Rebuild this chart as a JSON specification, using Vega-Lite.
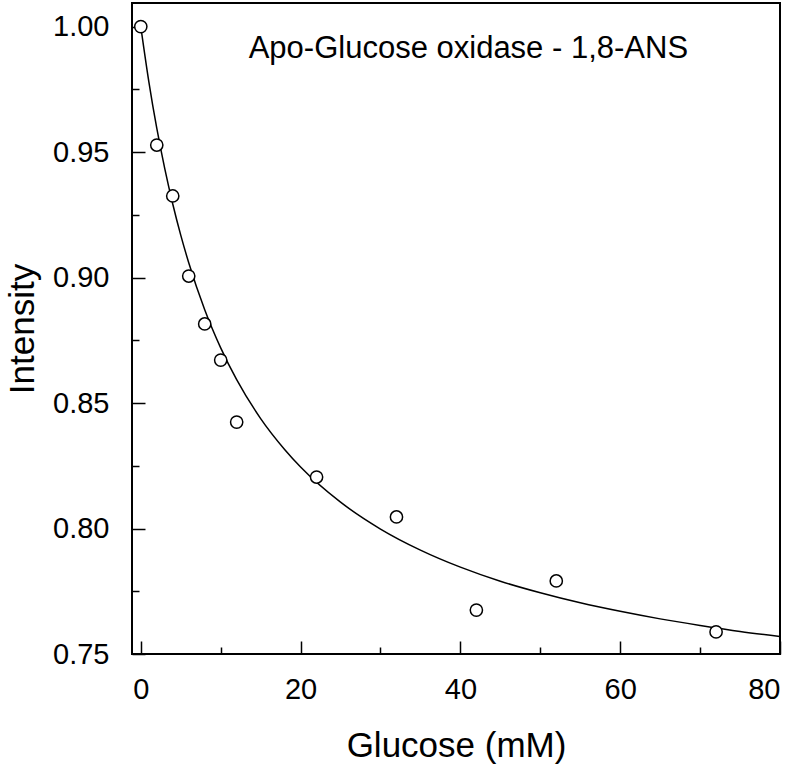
{
  "$schema": "https://vega.github.io/schema/vega-lite/v6.json",
  "width": 648,
  "height": 651,
  "autosize": {"type": "none"},
  "padding": {"left": 132, "top": 3, "right": 20, "bottom": 112},
  "background": "white",
  "config": {
    "font": "Liberation Sans",
    "view": {"stroke": "black", "strokeWidth": 2},
    "axis": {"grid": false, "domain": false, "tickColor": "black", "labelColor": "black", "titleColor": "black", "labelFont": "Liberation Sans", "titleFont": "Liberation Sans", "labelFontSize": 29, "titleFontSize": 35, "titleFontWeight": "normal", "tickWidth": 1.5}
  },
  "datasets": {
    "pts": [
      {"glucose": 0, "intensity": 1.0},
      {"glucose": 2, "intensity": 0.9528},
      {"glucose": 4, "intensity": 0.9325},
      {"glucose": 6, "intensity": 0.9006},
      {"glucose": 8, "intensity": 0.8815},
      {"glucose": 10, "intensity": 0.8671},
      {"glucose": 12, "intensity": 0.8424},
      {"glucose": 22, "intensity": 0.8205},
      {"glucose": 32, "intensity": 0.8046},
      {"glucose": 42, "intensity": 0.7675},
      {"glucose": 52, "intensity": 0.7791},
      {"glucose": 72, "intensity": 0.7588}
    ],
    "fit": [
      {"glucose": 0, "intensity": 1.0},
      {"glucose": 1, "intensity": 0.9782},
      {"glucose": 2, "intensity": 0.9595},
      {"glucose": 3, "intensity": 0.9434},
      {"glucose": 4, "intensity": 0.9293},
      {"glucose": 5, "intensity": 0.9169},
      {"glucose": 6, "intensity": 0.9059},
      {"glucose": 8, "intensity": 0.8872},
      {"glucose": 10, "intensity": 0.872},
      {"glucose": 12, "intensity": 0.8593},
      {"glucose": 15, "intensity": 0.8438},
      {"glucose": 18, "intensity": 0.8315},
      {"glucose": 20, "intensity": 0.8245},
      {"glucose": 25, "intensity": 0.8105},
      {"glucose": 30, "intensity": 0.7998},
      {"glucose": 35, "intensity": 0.7914},
      {"glucose": 40, "intensity": 0.7846},
      {"glucose": 45, "intensity": 0.779},
      {"glucose": 50, "intensity": 0.7744},
      {"glucose": 55, "intensity": 0.7704},
      {"glucose": 60, "intensity": 0.767},
      {"glucose": 65, "intensity": 0.764},
      {"glucose": 70, "intensity": 0.7614},
      {"glucose": 75, "intensity": 0.759},
      {"glucose": 80, "intensity": 0.757}
    ],
    "label": [
      {"glucose": 41, "intensity": 0.9875, "text": "Apo-Glucose oxidase - 1,8-ANS"}
    ]
  },
  "layer": [
    {
      "data": {"name": "fit"},
      "mark": {"type": "line", "color": "black", "strokeWidth": 1.5, "interpolate": "monotone"},
      "encoding": {
        "x": {"field": "glucose", "type": "quantitative", "scale": {"domain": [-1.1, 80], "nice": false, "zero": false},
          "axis": {"title": "Glucose (mM)", "values": [0, 10, 20, 30, 40, 50, 60, 70, 80],
            "labelExpr": "datum.value % 20 == 0 ? datum.label : ''",
            "tickSize": {"condition": {"test": "datum.value % 20 != 0", "value": -7}, "value": -13},
            "labelPadding": 34, "titleBaseline": "alphabetic", "titleY": 102}},
        "y": {"field": "intensity", "type": "quantitative", "scale": {"domain": [0.75, 1.0094], "nice": false, "zero": false},
          "axis": {"title": "Intensity", "values": [0.75, 0.775, 0.8, 0.825, 0.85, 0.875, 0.9, 0.925, 0.95, 0.975, 1.0], "format": ".2f",
            "labelExpr": "round(datum.value * 1000) % 50 == 0 ? datum.label : ''",
            "tickSize": {"condition": {"test": "round(datum.value * 1000) % 50 != 0", "value": -7}, "value": -13},
            "labelPadding": 36, "titleBaseline": "alphabetic", "titleX": -99}}
      }
    },
    {
      "data": {"name": "pts"},
      "mark": {"type": "point", "shape": "circle", "filled": false, "fill": "white", "fillOpacity": 1, "stroke": "black", "strokeWidth": 1.5, "size": 150, "opacity": 1},
      "encoding": {
        "x": {"field": "glucose", "type": "quantitative"},
        "y": {"field": "intensity", "type": "quantitative"}
      }
    },
    {
      "data": {"name": "label"},
      "mark": {"type": "text", "font": "Liberation Sans", "fontSize": 31, "color": "black", "align": "center", "baseline": "alphabetic"},
      "encoding": {
        "x": {"field": "glucose", "type": "quantitative"},
        "y": {"field": "intensity", "type": "quantitative"},
        "text": {"field": "text"}
      }
    }
  ]
}
